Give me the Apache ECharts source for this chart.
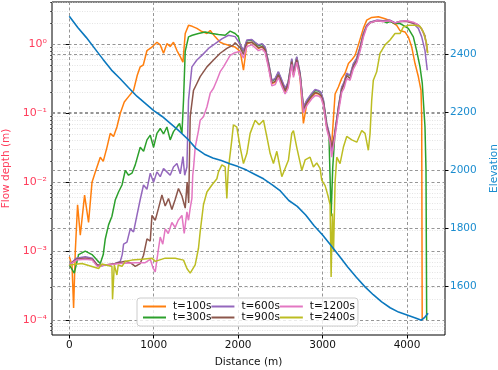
<!DOCTYPE html>
<html>
<head>
<meta charset="utf-8">
<script src="https://cdn.jsdelivr.net/npm/echarts@6/dist/echarts.min.js"></script>
<style>
  html, body { margin: 0; padding: 0; background: #fff; }
  #chart { width: 498px; height: 370px; }
</style>
</head>
<body>
<div id="chart"></div>
<script>
// flow depth (m) along the profile, [distance (m), depth]
const t100 = [
  [0, 8.3e-4], [32, 6.3e-4], [51, 1.5e-4], [71, 1.0e-3], [98, 4.7e-3], [130, 1.7e-3],
  [181, 6.5e-3], [228, 2.6e-3], [269, 0.010], [308, 0.014], [367, 0.023], [402, 0.020],
  [446, 0.032], [485, 0.051], [524, 0.046], [564, 0.063], [604, 0.10], [651, 0.145],
  [702, 0.174], [761, 0.214], [805, 0.355], [840, 0.47], [876, 0.50], [920, 0.81],
  [970, 0.89], [1038, 1.07], [1077, 0.98], [1116, 0.74], [1156, 1.02], [1195, 0.93],
  [1234, 1.07], [1275, 0.81], [1314, 0.66], [1346, 0.55], [1373, 1.43], [1412, 1.88],
  [1456, 1.82], [1511, 1.70], [1562, 1.55], [1630, 1.43], [1669, 1.58], [1728, 1.28],
  [1787, 1.07], [1826, 1.02], [1905, 0.95], [1964, 0.91], [2024, 0.79], [2063, 0.42],
  [2103, 1.02], [2162, 1.07], [2201, 0.98], [2241, 0.87], [2284, 0.91], [2320, 0.81],
  [2359, 0.49], [2399, 0.27], [2438, 0.28], [2477, 0.355], [2509, 0.28], [2556, 0.204],
  [2592, 0.25], [2635, 0.55], [2655, 0.355], [2694, 0.59], [2734, 0.32], [2773, 0.071],
  [2813, 0.138], [2872, 0.174], [2911, 0.195], [2950, 0.19], [2982, 0.178], [3010, 0.138],
  [3049, 0.063], [3089, 0.042], [3108, 0.035], [3127, 0.079], [3148, 0.19], [3187, 0.24],
  [3227, 0.32], [3266, 0.38], [3306, 0.525], [3349, 0.60], [3385, 0.69], [3424, 0.98],
  [3483, 1.70], [3523, 2.24], [3582, 2.45], [3661, 2.51], [3740, 2.34], [3799, 2.19],
  [3878, 1.88], [3917, 1.58], [3976, 1.51], [4015, 1.28], [4056, 0.91], [4095, 0.525],
  [4134, 0.34], [4166, 0.214], [4174, 0.089], [4180, 1.0e-4]
];
const t300 = [
  [0, 6.3e-4], [59, 4.8e-4], [110, 8.9e-4], [189, 1.0e-3], [269, 8.9e-4], [328, 7.4e-4],
  [367, 6.6e-4], [402, 8.9e-4], [426, 1.5e-3], [465, 2.4e-3], [505, 3.2e-3], [544, 5.5e-3],
  [583, 7.2e-3], [624, 9.1e-3], [663, 0.0148], [702, 0.0126], [742, 0.0135], [781, 0.0178],
  [840, 0.032], [880, 0.028], [920, 0.041], [959, 0.048], [998, 0.032], [1038, 0.051],
  [1077, 0.060], [1116, 0.050], [1156, 0.063], [1195, 0.041], [1234, 0.054], [1275, 0.063],
  [1306, 0.071], [1334, 0.051], [1353, 0.155], [1373, 0.79], [1412, 1.28], [1456, 1.35],
  [1530, 1.43], [1609, 1.51], [1689, 1.43], [1767, 1.38], [1846, 1.35], [1905, 1.55],
  [1964, 1.43], [2004, 1.28], [2024, 0.98], [2063, 0.79], [2103, 1.12], [2162, 1.15],
  [2201, 1.05], [2241, 0.95], [2284, 1.0], [2320, 0.89], [2359, 0.54], [2399, 0.295],
  [2438, 0.31], [2477, 0.39], [2509, 0.31], [2556, 0.224], [2592, 0.275], [2635, 0.60],
  [2655, 0.39], [2694, 0.65], [2734, 0.37], [2773, 0.12], [2813, 0.151], [2872, 0.19],
  [2911, 0.214], [2950, 0.21], [2982, 0.195], [3010, 0.151], [3049, 0.069], [3075, 0.050],
  [3101, 3.2e-3], [3120, 0.016], [3148, 0.055], [3187, 0.12], [3227, 0.234], [3254, 0.275],
  [3286, 0.37], [3325, 0.35], [3365, 0.51], [3405, 0.62], [3444, 0.89], [3483, 1.41],
  [3523, 1.86], [3562, 2.09], [3641, 2.19], [3716, 2.19], [3760, 2.04], [3799, 2.14],
  [3858, 2.0], [3917, 2.0], [3956, 1.88], [4015, 1.70], [4075, 1.28], [4114, 0.81],
  [4154, 0.47], [4181, 0.27], [4213, 0.063], [4225, 0.0148], [4233, 1.0e-4]
];
const t600 = [
  [0, 6.3e-4], [83, 7.9e-4], [189, 8.3e-4], [272, 7.9e-4], [331, 6.3e-4], [367, 6.0e-4],
  [426, 6.3e-4], [485, 6.3e-4], [544, 6.6e-4], [604, 7.1e-4], [627, 8.9e-4], [643, 1.26e-3],
  [683, 1.35e-3], [722, 2.1e-3], [761, 1.9e-3], [801, 3.3e-3], [840, 5.6e-3], [879, 9.1e-3],
  [920, 7.9e-3], [959, 0.0135], [998, 0.010], [1038, 0.0141], [1077, 0.012], [1116, 0.0158],
  [1156, 0.0141], [1195, 0.0126], [1234, 0.0166], [1275, 0.0186], [1314, 0.0132], [1346, 0.0234],
  [1367, 0.0126], [1393, 0.0166], [1412, 0.155], [1452, 0.47], [1511, 0.59], [1570, 0.69],
  [1649, 0.87], [1728, 1.02], [1807, 1.20], [1885, 1.35], [1964, 1.29], [2024, 1.0],
  [2063, 0.81], [2103, 1.15], [2162, 1.17], [2201, 1.07], [2241, 0.98], [2284, 1.02],
  [2320, 0.91], [2359, 0.55], [2399, 0.30], [2438, 0.32], [2477, 0.40], [2509, 0.32],
  [2556, 0.23], [2592, 0.28], [2635, 0.62], [2655, 0.40], [2694, 0.66], [2734, 0.38],
  [2773, 0.123], [2813, 0.155], [2872, 0.195], [2911, 0.22], [2950, 0.214], [2982, 0.20],
  [3010, 0.155], [3049, 0.071], [3089, 0.046], [3108, 0.028], [3148, 0.056], [3187, 0.123],
  [3227, 0.24], [3254, 0.28], [3286, 0.38], [3325, 0.355], [3365, 0.525], [3405, 0.63],
  [3444, 0.91], [3483, 1.43], [3523, 1.88], [3562, 2.09], [3641, 2.24], [3716, 2.19],
  [3799, 2.24], [3858, 2.04], [3917, 2.14], [3996, 2.19], [4075, 2.0], [4134, 1.70],
  [4174, 1.28], [4213, 0.81], [4240, 0.42]
];
const t900 = [
  [0, 6.3e-4], [83, 7.6e-4], [189, 7.9e-4], [272, 7.6e-4], [331, 6.3e-4], [426, 6.3e-4],
  [544, 6.6e-4], [663, 7.1e-4], [722, 6.8e-4], [781, 6.0e-4], [840, 6.6e-4], [879, 8.7e-4],
  [920, 1.5e-3], [959, 1.4e-3], [979, 3.3e-3], [1018, 2.8e-3], [1057, 4.2e-3], [1097, 6.5e-3],
  [1136, 4.5e-3], [1175, 5.8e-3], [1215, 4.0e-3], [1254, 5.6e-3], [1293, 8.1e-3], [1334, 6.3e-3],
  [1373, 4.2e-3], [1396, 0.010], [1414, 5.0e-3], [1432, 0.089], [1471, 0.214], [1511, 0.27],
  [1550, 0.34], [1630, 0.47], [1708, 0.59], [1787, 0.74], [1866, 0.87], [1944, 0.98],
  [1964, 1.05], [2024, 0.89], [2063, 0.71], [2103, 1.05], [2162, 1.07], [2201, 0.98],
  [2241, 0.89], [2284, 0.93], [2320, 0.83], [2359, 0.50], [2399, 0.275], [2438, 0.29],
  [2477, 0.36], [2509, 0.29], [2556, 0.21], [2592, 0.26], [2635, 0.56], [2655, 0.36],
  [2694, 0.60], [2734, 0.35], [2773, 0.112], [2813, 0.141], [2872, 0.178], [2911, 0.20],
  [2950, 0.195], [2982, 0.18], [3010, 0.141], [3049, 0.065], [3089, 0.042], [3108, 0.032],
  [3148, 0.051], [3187, 0.112], [3227, 0.22], [3254, 0.26], [3286, 0.35], [3325, 0.32],
  [3365, 0.48], [3405, 0.575], [3444, 0.85], [3483, 1.35], [3523, 1.82], [3562, 2.04],
  [3641, 2.19], [3716, 2.14], [3799, 2.19], [3858, 2.04], [3917, 2.14], [3996, 2.14],
  [4075, 2.04], [4134, 1.91], [4174, 1.66], [4213, 1.32], [4243, 0.76]
];
const t1200 = [
  [0, 6.3e-4], [83, 7.4e-4], [189, 7.6e-4], [272, 7.4e-4], [331, 6.0e-4], [426, 6.3e-4],
  [604, 6.6e-4], [781, 6.8e-4], [899, 6.8e-4], [959, 7.6e-4], [994, 5.6e-4], [1018, 5.0e-4],
  [1057, 1.1e-3], [1077, 1.6e-3], [1107, 1.26e-3], [1136, 2.1e-3], [1172, 1.8e-3], [1215, 2.6e-3],
  [1254, 2.2e-3], [1290, 2.8e-3], [1334, 3.3e-3], [1361, 1.8e-3], [1393, 3.7e-3], [1412, 2.8e-3],
  [1432, 4.2e-3], [1452, 5.8e-3], [1462, 0.0126], [1471, 0.0158], [1491, 0.032], [1530, 0.056],
  [1550, 0.079], [1589, 0.089], [1630, 0.123], [1669, 0.195], [1708, 0.23], [1748, 0.30],
  [1787, 0.40], [1826, 0.47], [1905, 0.69], [1944, 0.74], [2024, 0.79], [2063, 0.63],
  [2103, 0.93], [2162, 0.98], [2201, 0.89], [2241, 0.81], [2284, 0.85], [2320, 0.76],
  [2359, 0.46], [2399, 0.25], [2438, 0.26], [2477, 0.33], [2509, 0.26], [2556, 0.19],
  [2592, 0.23], [2635, 0.51], [2655, 0.33], [2694, 0.55], [2734, 0.32], [2773, 0.102],
  [2813, 0.129], [2872, 0.162], [2911, 0.18], [2950, 0.178], [2982, 0.166], [3010, 0.129],
  [3049, 0.059], [3089, 0.038], [3108, 0.023], [3148, 0.047], [3187, 0.102], [3227, 0.20],
  [3254, 0.23], [3286, 0.32], [3325, 0.30], [3365, 0.44], [3405, 0.54], [3444, 0.79],
  [3483, 1.26], [3523, 1.78], [3562, 2.04], [3641, 2.19], [3716, 2.14], [3799, 2.19],
  [3858, 2.04], [3917, 2.14], [3996, 2.19], [4075, 2.09], [4134, 1.91], [4174, 1.66],
  [4213, 1.26], [4243, 0.79]
];
const t2400 = [
  [0, 6.3e-4], [150, 6.6e-4], [347, 5.6e-4], [387, 6.5e-4], [505, 6.0e-4], [512, 2.0e-4],
  [533, 6.3e-4], [564, 4.5e-4], [580, 6.3e-4], [624, 6.0e-4], [663, 7.1e-4], [742, 7.4e-4],
  [860, 7.6e-4], [979, 7.9e-4], [1018, 7.1e-4], [1136, 7.9e-4], [1254, 7.9e-4], [1353, 7.4e-4],
  [1393, 5.6e-4], [1432, 4.8e-4], [1452, 4.8e-4], [1491, 6.3e-4], [1530, 1.1e-3], [1550, 1.9e-3],
  [1589, 4.7e-3], [1630, 7.2e-3], [1689, 9.1e-3], [1748, 0.0112], [1767, 0.0141], [1807, 0.0178],
  [1846, 0.0166], [1866, 5.8e-3], [1882, 0.0148], [1905, 0.0148], [1925, 0.041], [1944, 0.068],
  [1984, 0.063], [2024, 0.032], [2063, 0.0186], [2103, 0.026], [2142, 0.051], [2201, 0.079],
  [2249, 0.068], [2300, 0.079], [2339, 0.046], [2379, 0.026], [2418, 0.0186], [2458, 0.028],
  [2517, 0.012], [2556, 0.0158], [2596, 0.021], [2635, 0.051], [2655, 0.056], [2694, 0.032],
  [2754, 0.0148], [2793, 0.021], [2852, 0.023], [2891, 0.0166], [2931, 0.019], [2970, 0.0158],
  [2990, 0.0107], [3030, 8.9e-3], [3065, 6.3e-3], [3089, 4.7e-3], [3101, 4.2e-4], [3116, 3.5e-3],
  [3130, 1.0e-3], [3148, 0.010], [3168, 0.023], [3207, 0.0186], [3246, 0.032], [3286, 0.046],
  [3346, 0.041], [3405, 0.038], [3464, 0.056], [3503, 0.051], [3542, 0.029], [3562, 0.050],
  [3582, 0.155], [3601, 0.30], [3641, 0.40], [3680, 0.74], [3740, 0.98], [3799, 1.15],
  [3858, 1.43], [3917, 1.43], [3956, 1.78], [4015, 1.88], [4095, 1.88], [4154, 1.82],
  [4193, 1.51], [4233, 1.02], [4245, 0.74]
];
// bed elevation (m)
const elevation = [
  [0, 2531], [100, 2492], [200, 2458], [300, 2420], [400, 2382], [500, 2345], [600, 2316],
  [700, 2285], [800, 2255], [900, 2230], [1000, 2205], [1100, 2185], [1200, 2160],
  [1300, 2135], [1400, 2108], [1500, 2075], [1600, 2055], [1700, 2042], [1800, 2033],
  [1900, 2022], [2000, 2012], [2100, 2000], [2200, 1985], [2300, 1970], [2400, 1950],
  [2500, 1928], [2600, 1895], [2700, 1875], [2800, 1845], [2900, 1808], [3000, 1776],
  [3100, 1740], [3200, 1703], [3300, 1665], [3400, 1630], [3500, 1598], [3600, 1570],
  [3700, 1545], [3800, 1525], [3900, 1510], [4000, 1500], [4100, 1490], [4170, 1482],
  [4210, 1492], [4250, 1506]
];

const xTicks = [0, 1000, 2000, 3000, 4000];
const depthTicks = [1e-4, 1e-3, 1e-2, 1e-1, 1];
const depthLabels = ['10⁻⁴', '10⁻³', '10⁻²', '10⁻¹', '10⁰'];
const elevTicks = [1600, 1800, 2000, 2200, 2400];
const legendOrder = ['t=100s', 't=600s', 't=1200s', 't=300s', 't=900s', 't=2400s'];

// minor log ticks 2..9 x 10^n
const minorTicks = [];
for (let e = -5; e <= 0; e++) {
  for (let m = 2; m <= 9; m++) minorTicks.push(m * Math.pow(10, e));
}

const font = 'DejaVu Sans';
const red = '#ff3d5c';
const blue = '#1a8ccf';
const majorGrid = { show: true, lineStyle: { color: '#8a8a8a', type: [3, 2.5], width: 0.9 } };

const flowSeries = [
  ['t=100s', t100, '#ff7f0e'],
  ['t=300s', t300, '#2ca02c'],
  ['t=600s', t600, '#9467bd'],
  ['t=900s', t900, '#8c564b'],
  ['t=1200s', t1200, '#e377c2'],
  ['t=2400s', t2400, '#bcbd22']
].map(([name, data, color]) => ({
  name, type: 'line', data, yAxisIndex: 0, color,
  showSymbol: false, symbol: 'none', animation: false,
  lineStyle: { width: 1.5, color }
}));

const chart = echarts.init(document.getElementById('chart'), null, { renderer: 'canvas' });
chart.setOption({
  animation: false,
  backgroundColor: '#fff',
  textStyle: { fontFamily: font },
  grid: {
    left: 52, right: 53, top: 2, bottom: 35,
    containLabel: false, outerBoundsMode: 'none',
    show: true, borderColor: '#000', borderWidth: 1, backgroundColor: 'transparent'
  },
  legend: {
    data: legendOrder,
    left: 137, top: 298, width: 216,
    orient: 'horizontal',
    icon: 'rect', itemWidth: 23, itemHeight: 2, itemGap: 0,
    padding: [3, 3, 3, 6],
    backgroundColor: 'rgba(255,255,255,0.8)',
    borderColor: '#cccccc', borderWidth: 1, borderRadius: 3,
    textStyle: { fontFamily: font, fontSize: 10.5, color: '#111', padding: [0, 0, 0, 2], lineHeight: 11 }
  },
  xAxis: {
    type: 'value', min: -205, max: 4450,
    name: 'Distance (m)', nameLocation: 'middle', nameGap: 22,
    nameTextStyle: { fontFamily: font, fontSize: 10.5, color: '#111' },
    axisLine: { show: false },
    axisTick: { show: true, customValues: xTicks, length: 3.5, lineStyle: { color: '#000' } },
    axisLabel: { customValues: xTicks, fontFamily: font, fontSize: 10.5, color: '#111', margin: 5, formatter: v => String(v) },
    splitLine: majorGrid
  },
  yAxis: [
    {
      type: 'log', logBase: 10, min: 6.07e-5, max: 4.1, position: 'left',
      name: 'Flow depth (m)', nameLocation: 'middle', nameGap: 38,
      nameTextStyle: { fontFamily: font, fontSize: 10.5, color: red },
      axisLine: { show: false },
      axisTick: { show: true, customValues: depthTicks, length: 3.5, lineStyle: { color: '#000' } },
      axisLabel: {
        customValues: depthTicks, fontFamily: font, fontSize: 11, color: red, margin: 5,
        formatter: v => depthLabels[depthTicks.findIndex(t => Math.abs(Math.log10(t) - Math.log10(v)) < 1e-6)]
      },
      splitLine: majorGrid
    },
    {
      type: 'value', min: 1431, max: 2580, position: 'right',
      name: 'Elevation', nameLocation: 'middle', nameGap: 44,
      nameTextStyle: { fontFamily: font, fontSize: 10.5, color: blue },
      axisLine: { show: false },
      axisTick: { show: true, customValues: elevTicks, length: 3.5, lineStyle: { color: '#000' } },
      axisLabel: { customValues: elevTicks, fontFamily: font, fontSize: 10.5, color: blue, margin: 5, formatter: v => String(v) },
      splitLine: majorGrid
    },
    {
      type: 'log', logBase: 10, min: 6.07e-5, max: 4.1, position: 'left',
      axisLine: { show: false },
      axisTick: { show: true, customValues: minorTicks, length: 2, lineStyle: { color: '#000', width: 0.6 } },
      axisLabel: { show: false, customValues: minorTicks },
      splitLine: { show: true, lineStyle: { color: '#d9d9d9', type: [1, 1.5], width: 0.7 } }
    }
  ],
  series: flowSeries.concat([{
    name: 'Elevation', type: 'line', data: elevation, yAxisIndex: 1,
    showSymbol: false, symbol: 'none', color: '#0b78be',
    lineStyle: { width: 1.6, color: '#0b78be' }
  }])
});
</script>
</body>
</html>
